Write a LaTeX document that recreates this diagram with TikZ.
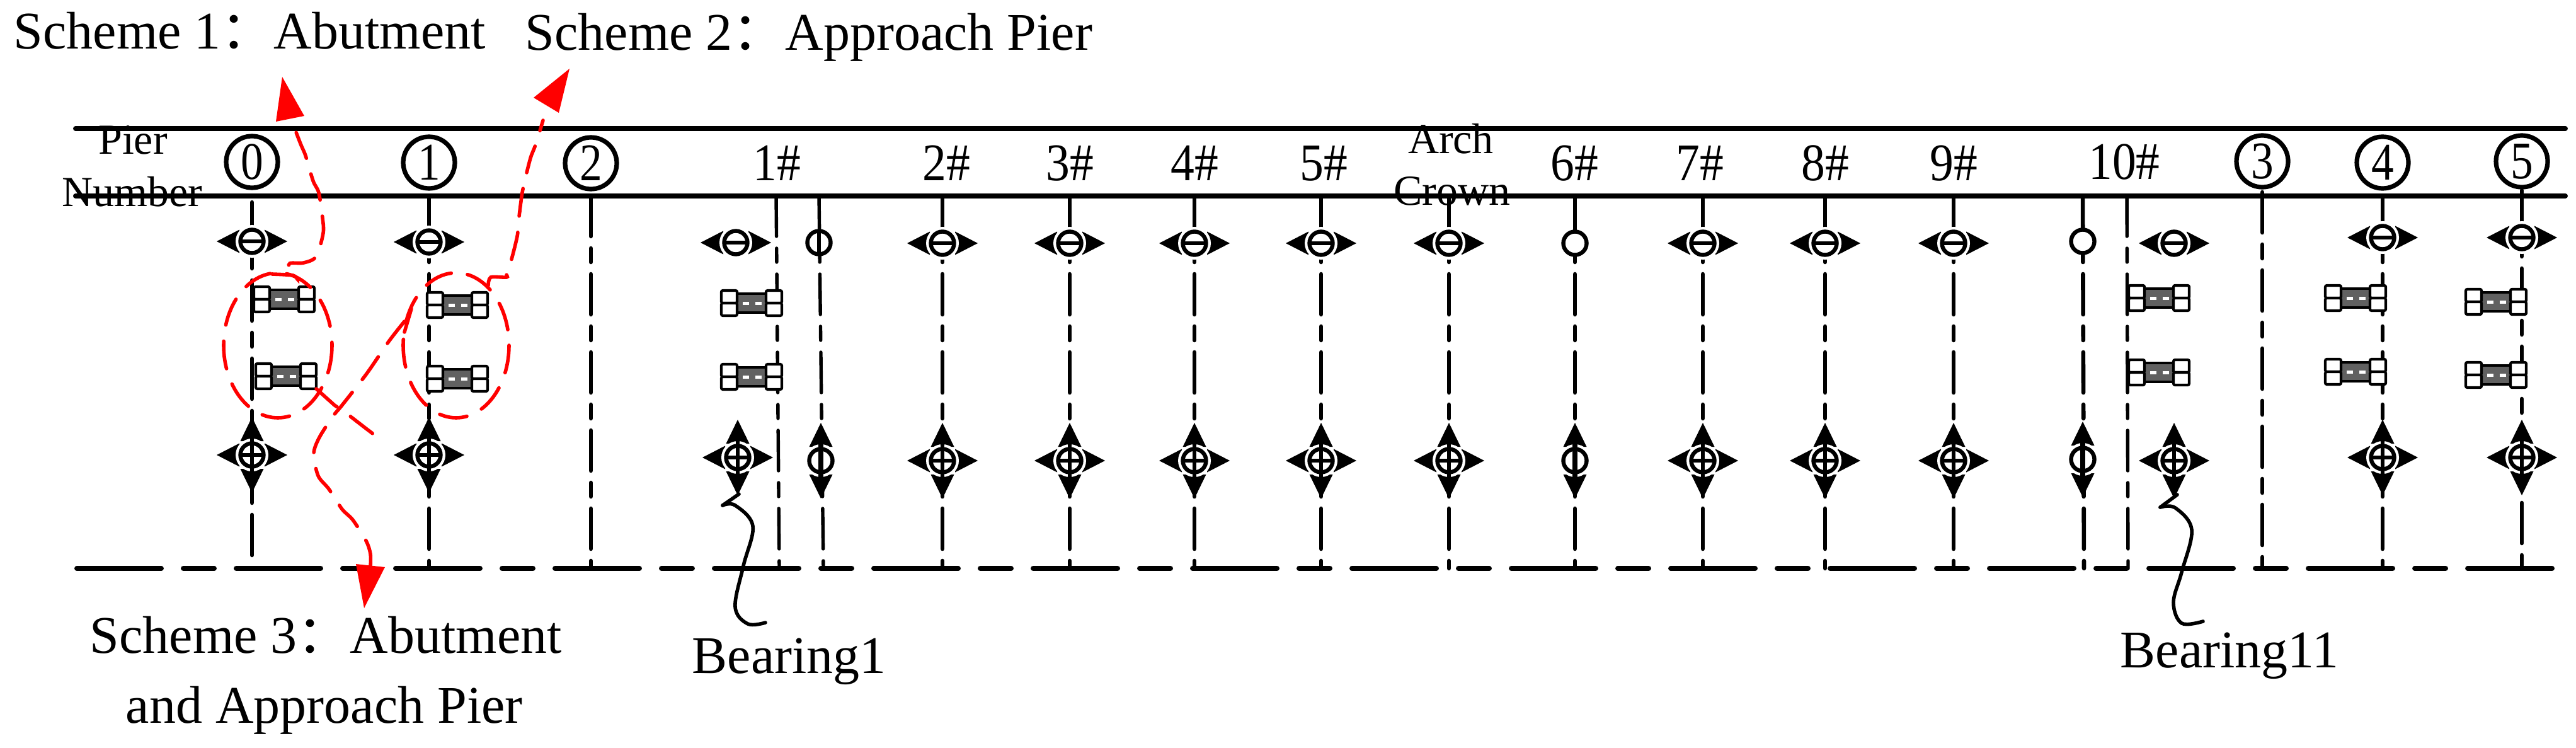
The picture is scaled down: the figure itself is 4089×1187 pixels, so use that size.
\documentclass[tikz,border=0pt]{standalone}
\usepackage{fontspec}
\setmainfont{Liberation Serif}
\newfontfamily\cjkfnt{Noto Sans CJK SC}
\newcommand\fw{{\cjkfnt：}}
\tikzset{
  base line/.style={line width=2pt,line cap=round},
  pier/.style={line width=1.65pt,line cap=round,dash pattern=on 16pt off 4.75pt on 5.5pt off 4.75pt},
  beamdash/.style={line width=2pt,line cap=round,dash pattern=on 33.5pt off 8.75pt on 12.25pt off 8.75pt},
  redpath/.style={red,line width=1.4pt,line cap=round,dash pattern=on 11pt off 6.5pt},
  redhead/.style={fill=red,draw=none},
  leader/.style={line width=1.4pt,line cap=round},
  big/.style={inner sep=0pt,anchor=base west,font=\fontsize{21}{21}\selectfont},
  small/.style={inner sep=0pt,anchor=base,font=\fontsize{17}{17}\selectfont},
  mark text/.style={inner sep=0pt,anchor=base,font=\fontsize{21}{21}\selectfont},
  circled/.style={circle,draw,line width=1.8pt,minimum size=20.5pt,inner sep=0pt,font=\fontsize{21}{21}\selectfont},
  ring/.style={line width=1.6pt},
  head/.style={fill=black,draw=none},
  bar/.style={line width=1.4pt},
  block/.style={draw=black,fill=white,line width=1.05pt,rounded corners=.6pt},
}
\newcommand\ringat{\draw[ring,fill=white] (0,0) circle (18.5);}
\newcommand\harr{\fill[head] (-56,0)--(-20,-18.5)--(-20,18.5)--cycle;\fill[head] (56,0)--(20,-18.5)--(20,18.5)--cycle;}
\newcommand\varr{\fill[head] (0,-60)--(-18.5,-22)--(18.5,-22)--cycle;\fill[head] (0,60)--(-18.5,22)--(18.5,22)--cycle;}
\newcommand\halo{\fill[white] (0,0) circle (26);}
\newcommand\symH[2]{\begin{scope}[shift={(#1,#2)}]\harr\halo\ringat\draw[bar] (-18,0)--(18,0);\end{scope}}
\newcommand\symPlain[2]{\begin{scope}[shift={(#1,#2)}]\ringat\end{scope}}
\newcommand\symPhi[2]{\begin{scope}[shift={(#1,#2)}]\ringat\draw[bar] (0,-20)--(0,20);\end{scope}}
\newcommand\symX[2]{\begin{scope}[shift={(#1,#2)}]\harr\varr\halo\ringat\draw[bar] (-18,0)--(18,0);\draw[line width=1.6pt] (0,-42)--(0,42);\end{scope}}
\newcommand\symV[2]{\begin{scope}[shift={(#1,#2)}]\varr\halo\ringat\draw[line width=1.8pt] (0,-42)--(0,42);\end{scope}}
\newcommand\device[2]{\begin{scope}[shift={(#1,#2)}]
  \fill[white] (-48,-21) rectangle (48,21);
  \draw[fill=black!62,line width=.8pt] (-24,-15) rectangle (24,15);
  \fill[white] (-14,-2.5) rectangle (-4,2.5);
  \fill[white] (6,-2.5) rectangle (16,2.5);
  \draw[block] (-48,-20) rectangle (-23,0);
  \draw[block] (-48,0) rectangle (-23,20);
  \draw[block] (23,-20) rectangle (48,0);
  \draw[block] (23,0) rectangle (48,20);
\end{scope}}
\begin{document}
\begin{tikzpicture}[x=.25pt,y=-.25pt]
\useasboundingbox (0,0) rectangle (4089,1187);
% long lines
\coordinate (tl) at (120,204); \coordinate (tr) at (4072,204);
\coordinate (ml) at (120,311); \coordinate (mr) at (4072,311);
\coordinate (bl) at (122,902); \coordinate (br) at (4056,902);
\draw[base line] (tl)--(tr);
\draw[base line] (ml)--(mr);
\draw[beamdash] (bl)--(br);
% piers
\draw[pier] (400,321)--(400,890);
\foreach \x in {681,938,1496,1698,1896,2097,2300,2500,2703,2897,3101}
  \draw[pier] (\x,311)--(\x,902);
\draw[pier,line width=1.35pt] (1232,311)--(1237,902);
\draw[pier,line width=1.35pt] (1300,311)--(1307,902);
\draw[pier] (3306,311)--(3308,902);
\draw[pier,line width=1.35pt] (3376,311)--(3378,902);
\draw[pier] (3591,305)--(3591,902);
\draw[pier] (3782,311)--(3782,902);
\draw[pier] (4003,302)--(4003,902);
% upper bearings
\symH{400}{383}\symH{681}{384}\symH{1168}{385}\symPhi{1300}{385}
\foreach \x in {1496,1698,1896,2097,2300,2703,2897,3101} {\symH{\x}{386}}
\symPlain{2500}{386}\symPlain{3306}{383}\symH{3451}{386}\symH{3782}{377}\symH{4003}{377}
% lower bearings
\symX{400}{722}\symX{681}{722}\symX{1171}{726}\symV{1303}{731}
\foreach \x in {1496,1698,1896,2097,2300,2703,2897,3101} {\symX{\x}{731}}
\symV{2500}{731}\symV{3306}{729}\symX{3451}{731}\symX{3782}{726}\symX{4003}{726}
% devices
\device{451}{475}\device{454}{597}
\device{726}{484}\device{726}{601}
\device{1193}{481}\device{1193}{598}
\device{3427}{473}\device{3427}{591}
\device{3739}{473}\device{3739}{590}
\device{3962}{479}\device{3962}{595}
% circled numbers
\node[circled] (c0) at (400,257) {\scalebox{.85}[1]{0}};
\node[circled] (c1) at (681,258) {\scalebox{.85}[1]{1}};
\node[circled] (c2) at (938,259) {\scalebox{.85}[1]{2}};
\node[circled] (c3) at (3591,256) {\scalebox{.85}[1]{3}};
\node[circled] (c4) at (3782,258) {\scalebox{.85}[1]{4}};
\node[circled] (c5) at (4003,256) {\scalebox{.85}[1]{5}};
% span labels
\node[mark text] (m1) at (1233,286) {\scalebox{.9}[1]{1\#}};
\node[mark text] (m2) at (1502,286) {\scalebox{.9}[1]{2\#}};
\node[mark text] (m3) at (1698,286) {\scalebox{.9}[1]{3\#}};
\node[mark text] (m4) at (1896,286) {\scalebox{.9}[1]{4\#}};
\node[mark text] (m5) at (2101,286) {\scalebox{.9}[1]{5\#}};
\node[mark text] (m6) at (2499,286) {\scalebox{.9}[1]{6\#}};
\node[mark text] (m7) at (2698,286) {\scalebox{.9}[1]{7\#}};
\node[mark text] (m8) at (2897,286) {\scalebox{.9}[1]{8\#}};
\node[mark text] (m9) at (3101,286) {\scalebox{.9}[1]{9\#}};
\node[mark text] (m10) at (3372,284) {\scalebox{.9}[1]{10\#}};
\node[small] (pier) at (211,245) {Pier};
\node[small] (number) at (210,327) {Number};
\node[small] (arch) at (2303,243) {Arch};
\node[small] (crown) at (2305,325) {Crown};
% scheme labels
\node[big] (s1) at (21,78) {Scheme 1\fw Abutment};
\node[big] (s2) at (833,80) {Scheme 2\fw Approach Pier};
\node[big] (s3) at (142,1036) {Scheme 3\fw Abutment};
\node[big] (s3b) at (199,1147) {and Approach Pier};
\node[big] (b1) at (1098,1068) {Bearing1};
\node[big] (b11) at (3365,1059) {Bearing11};
% leaders
\draw[leader] (1173,784)--(1147,802);
\draw[leader] plot[smooth,tension=.6] coordinates {(1147,802) (1167,802) (1195,835) (1180,898) (1167,963) (1187,990) (1215,988)};
\draw[leader] (3456,785)--(3429,805);
\draw[leader] plot[smooth,tension=.6] coordinates {(3429,805) (3453,806) (3479,841) (3463,908) (3450,956) (3463,989) (3497,986)};
% red
\draw[redpath] (441,548) ellipse (86 and 115);
\draw[redpath] (724,548) ellipse (84 and 115);
\draw[redpath] plot[smooth,tension=.5] coordinates {(432,435) (465,437) (472,443) (460,430) (460,418) (482,417) (502,407) (513,370) (512,346) (506,306) (497,287) (485,247) (477,228) (462,189)};
\fill[redhead] (448,122)--(438,193)--(483,184)--cycle;
\draw[redpath] plot[smooth,tension=.5] coordinates {(775,453) (779,440) (804,440) (804,434) (811,415) (821,375) (823,352) (828,312) (832,291) (842,251) (850,230) (862,191)};
\fill[redhead] (904,109)--(847,155)--(887,179)--cycle;
\draw[redpath] (502,617)--(531,643)--(550,656)--(581,680)--(610,702);
\draw[redpath] (653,490)--(642,527);
\draw[redpath] plot[smooth,tension=.5] coordinates {(642,510) (617,542) (582,593) (543,643) (529,660) (507,694) (498,720) (505,755) (522,776) (543,808) (560,825) (581,858) (588,879) (588,900)};
\fill[redhead] (578,965)--(565,895)--(611,900)--cycle;
\end{tikzpicture}
\end{document}
